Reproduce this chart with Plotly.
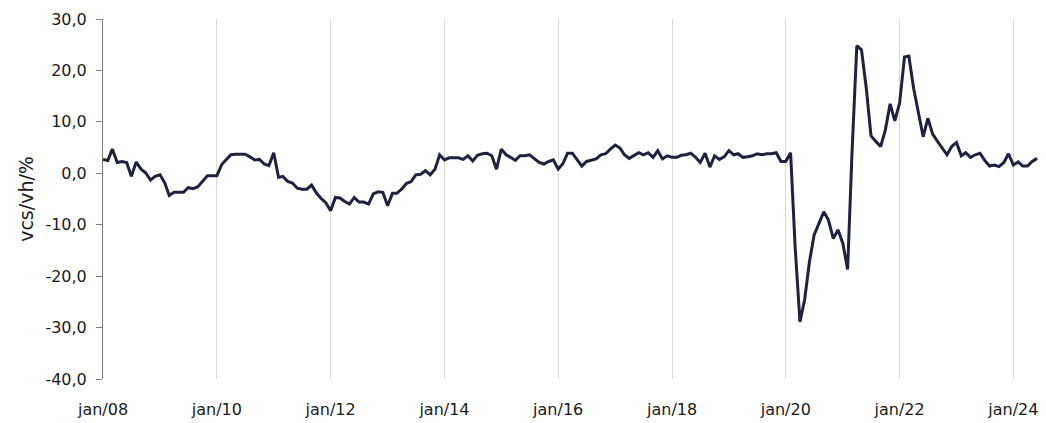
import pandas as pd
import plotly.graph_objects as go

# monthly values, jan/08 .. jun/24
v2008 = [2.7, 2.5, 4.7, 2.1, 2.3, 2.1, -0.6, 2.2, 0.8, 0.1, -1.3, -0.6]
v2009 = [-0.3, -1.9, -4.3, -3.7, -3.7, -3.7, -2.8, -3.0, -2.6, -1.6, -0.5, -0.5]
v2010 = [-0.5, 1.7, 2.6, 3.6, 3.7, 3.7, 3.7, 3.2, 2.6, 2.7, 1.8, 1.5]
v2011 = [4.0, -0.8, -0.6, -1.6, -1.9, -2.9, -3.1, -3.1, -2.3, -3.8, -4.9, -5.7]
v2012 = [-7.3, -4.7, -4.8, -5.5, -6.0, -4.7, -5.6, -5.6, -6.0, -4.0, -3.6, -3.7]
v2013 = [-6.3, -3.9, -3.9, -3.1, -2.0, -1.6, -0.3, -0.2, 0.5, -0.3, 0.8, 3.6]
v2014 = [2.6, 3.0, 3.0, 3.0, 2.7, 3.4, 2.4, 3.5, 3.8, 3.9, 3.4, 0.8]
v2015 = [4.7, 3.6, 3.1, 2.5, 3.4, 3.4, 3.6, 2.8, 2.1, 1.8, 2.3, 2.6]
v2016 = [0.8, 1.9, 3.9, 3.9, 2.6, 1.4, 2.3, 2.5, 2.8, 3.6, 3.8, 4.7]
v2017 = [5.5, 4.9, 3.6, 2.9, 3.4, 4.0, 3.6, 4.0, 3.1, 4.4, 2.8, 3.4]
v2018 = [3.1, 3.1, 3.5, 3.6, 3.9, 3.1, 2.1, 3.9, 1.2, 3.4, 2.7, 3.2]
v2019 = [4.4, 3.6, 3.8, 3.1, 3.2, 3.4, 3.8, 3.6, 3.8, 3.8, 4.0, 2.3]
v2020 = [2.3, 4.0, -14.3, -28.9, -24.6, -17.2, -12.0, -9.6, -7.5, -9.1, -12.7, -11.0]
v2021 = [-13.6, -18.7, 3.9, 24.8, 24.0, 16.5, 7.3, 6.2, 5.2, 8.4, 13.5, 10.2]
v2022 = [13.7, 22.6, 22.8, 16.5, 11.7, 7.1, 10.7, 7.6, 6.2, 4.9, 3.6, 5.2]
v2023 = [6.0, 3.4, 4.0, 3.1, 3.6, 3.9, 2.5, 1.4, 1.6, 1.3, 2.1, 3.8]
v2024 = [1.6, 2.2, 1.4, 1.4, 2.3, 2.9]

values = (v2008 + v2009 + v2010 + v2011 + v2012 + v2013 + v2014 + v2015 + v2016
          + v2017 + v2018 + v2019 + v2020 + v2021 + v2022 + v2023 + v2024)
months = pd.date_range("2008-01-01", periods=len(values), freq="MS")

tick_years = [2008, 2010, 2012, 2014, 2016, 2018, 2020, 2022, 2024]
tick_text = ["jan/%02d" % (y % 100) for y in tick_years]
tick_vals = [pd.Timestamp(y, 1, 1) for y in tick_years]

y_ticks = [-40, -30, -20, -10, 0, 10, 20, 30]
# excel style labels: plain hyphen and decimal comma
y_text = [("%.1f" % t).replace(".", ",") for t in y_ticks]

font_name = "DejaVu Sans"

fig = go.Figure()
fig.add_trace(go.Scatter(x=months, y=values, mode="lines",
                         line=dict(color="#1e2142", width=3)))

# page body has an 8px margin, so the figure is 8px smaller each way
fig.update_layout(
    width=1038, height=415,
    margin=dict(l=95, r=6, t=11, b=44),
    plot_bgcolor="white", paper_bgcolor="white",
    showlegend=False,
    font=dict(family=font_name, size=16, color="#1a1a1a"),
)
fig.update_xaxes(
    range=[pd.Timestamp("2008-01-01"), pd.Timestamp("2024-06-20")],
    tickvals=tick_vals, ticktext=tick_text,
    showgrid=True, gridcolor="#d9d9d9", gridwidth=1,
    showline=False, zeroline=False, ticks="",
    ticklabelstandoff=19, automargin=False,
)
fig.update_yaxes(
    range=[-40, 30], tickvals=y_ticks, ticktext=y_text,
    showgrid=False, zeroline=False,
    showline=True, linecolor="#7f7f7f", linewidth=1,
    ticks="outside", ticklen=6, tickcolor="#7f7f7f",
    ticklabelstandoff=6, automargin=False,
    title=dict(text="vcs/vh/%", standoff=6),
)

fig.write_html("out.html")
